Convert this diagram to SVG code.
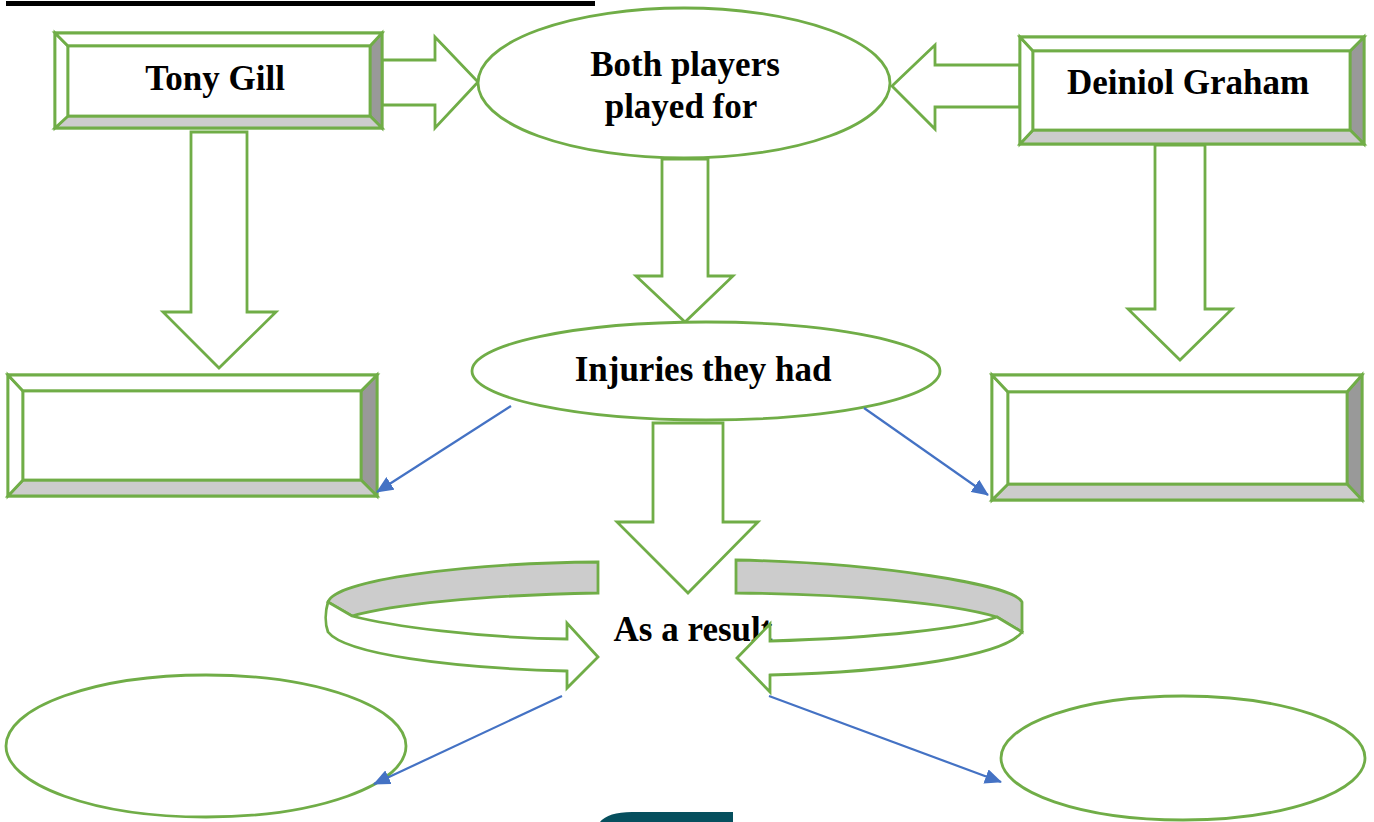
<svg xmlns="http://www.w3.org/2000/svg" width="1374" height="822" viewBox="0 0 1374 822">
<style>
.g{fill:#fff;stroke:#70AD47;stroke-width:2.8;stroke-linejoin:miter}
.dk{fill:#999999;stroke:#70AD47;stroke-width:2.8}
.lt{fill:#CCCCCC;stroke:#70AD47;stroke-width:2.8}
.t{font-family:"Liberation Serif","Times New Roman",serif;font-weight:bold;font-size:35px;fill:#000;text-anchor:middle}
.c{stroke:#4472C4;stroke-width:2.2;fill:none;marker-end:url(#ah)}
</style>
<defs>
<marker id="ah" markerUnits="userSpaceOnUse" markerWidth="17" markerHeight="15" viewBox="0 0 17 15" refX="16" refY="7.5" orient="auto">
<path d="M0,0 L17,7.5 L0,15 Z" fill="#4472C4"/>
</marker>
</defs>
<rect x="6" y="1" width="589" height="5" fill="#000"/>

<g id="block-arrows">
<polygon class="g" points="382,60 435,60 435,37 478,82 435,128 435,105 382,105"/>
<polygon class="g" points="1020,65 935,65 935,45 892,86 935,129 935,107 1020,107"/>
<polygon class="g" points="191,132 247,132 247,312 276,312 219,368 163,312 191,312"/>
<polygon class="g" points="662,159 708,159 708,276 733,276 685,322 636,276 662,276"/>
<polygon class="g" points="1155,145 1205,145 1205,309 1232,309 1180,360 1128,309 1155,309"/>
<polygon class="g" points="653,423 723,423 723,522 758,522 688,593 617,522 653,522"/>
</g>

<g id="tony-gill">
<rect class="g" x="55" y="33" width="327" height="95"/>
<polygon class="dk" points="382,33 382,128 370,116 370,46"/>
<polygon class="lt" points="55,128 382,128 370,116 68,116"/>
<polygon class="g" points="55,33 68,46 68,116 55,128"/>
<polygon class="g" points="55,33 382,33 370,46 68,46"/>
<rect class="g" x="68" y="46" width="302" height="70"/>
<text class="t" x="215" y="90">Tony Gill</text>
</g>

<g id="deiniol-graham">
<rect class="g" x="1020" y="37" width="344" height="107"/>
<polygon class="dk" points="1364,37 1364,144 1350,130 1350,51"/>
<polygon class="lt" points="1020,144 1364,144 1350,130 1033,130"/>
<polygon class="g" points="1020,37 1033,51 1033,130 1020,144"/>
<polygon class="g" points="1020,37 1364,37 1350,51 1033,51"/>
<rect class="g" x="1033" y="51" width="317" height="79"/>
<text class="t" x="1188" y="94">Deiniol Graham</text>
</g>

<g id="both-played">
<ellipse class="g" cx="684" cy="83" rx="206" ry="75"/>
<text class="t" x="685" y="76">Both players</text>
<text class="t" x="681" y="118">played for</text>
</g>

<g id="injuries">
<ellipse class="g" cx="706" cy="371" rx="234" ry="49"/>
<text class="t" x="703" y="381">Injuries they had</text>
</g>

<g id="left-box">
<rect class="g" x="8" y="375" width="369" height="121"/>
<polygon class="dk" points="377,375 377,496 361,480 361,391"/>
<polygon class="lt" points="8,496 377,496 361,480 23,480"/>
<polygon class="g" points="8,375 23,391 23,480 8,496"/>
<polygon class="g" points="8,375 377,375 361,391 23,391"/>
<rect class="g" x="23" y="391" width="338" height="89"/>
</g>

<g id="right-box">
<rect class="g" x="992" y="375" width="370" height="125"/>
<polygon class="dk" points="1362,375 1362,500 1347,484 1347,392"/>
<polygon class="lt" points="992,500 1362,500 1347,484 1008,484"/>
<polygon class="g" points="992,375 1008,392 1008,484 992,500"/>
<polygon class="g" points="992,375 1362,375 1347,392 1008,392"/>
<rect class="g" x="1008" y="392" width="339" height="92"/>
</g>

<g id="as-a-result">
<text class="t" x="693" y="641">As a result</text>
<path class="lt" d="M598,562 L598,593 C 480,595 390,605 352,616 L328,602 C 335,580 465,563 598,562 Z"/>
<path class="g" d="M328,602 C 325,612 325,624 328,632 C 345,654 450,668 567,671 L567,688 L598,657 L567,623 L567,639 C 480,638 390,626 352,616 Z"/>
<path class="lt" d="M736,560 C 880,563 1015,585 1022,602 L1022,632 L997,617 C 950,603 850,594 736,593 Z"/>
<path class="g" d="M997,617 L1022,632 C 1005,655 900,672 770,675 L770,692 L737,658 L770,624 L770,641 C 880,638 965,628 997,617 Z"/>
</g>

<g id="left-oval">
<ellipse class="g" cx="206" cy="746" rx="200" ry="71"/>
</g>

<g id="right-oval">
<ellipse class="g" cx="1183" cy="758" rx="182" ry="62"/>
</g>

<g id="connectors">
<line class="c" x1="511" y1="406" x2="377" y2="492"/>
<line class="c" x1="864" y1="408" x2="988" y2="495"/>
<line class="c" x1="562" y1="696" x2="374" y2="784"/>
<line class="c" x1="769" y1="696" x2="1001" y2="782"/>
</g>

<path d="M600,822 Q 608,812 632,812 L733,812 L733,822 Z" fill="#064F5E"/>
</svg>
